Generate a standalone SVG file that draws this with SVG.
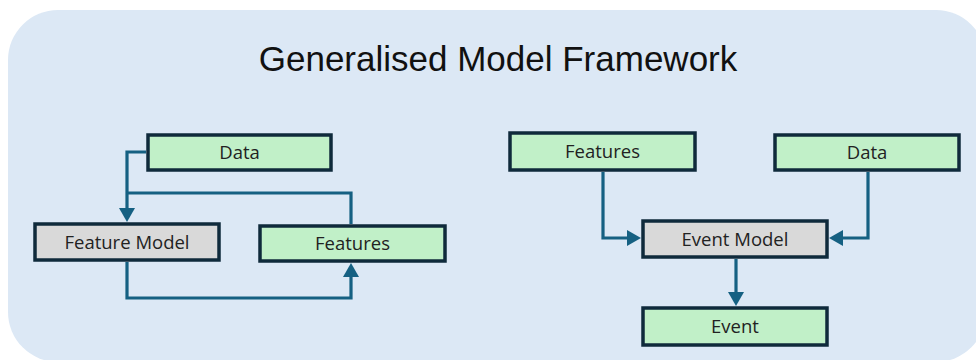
<svg xmlns="http://www.w3.org/2000/svg" width="976" height="360" viewBox="0 0 976 360">
<defs>
<style>
.bg{fill:#DCE8F5}
.box rect{stroke:#0F2A3B;stroke-width:3.5}
.g rect{fill:#C1F0C8}
.m rect{fill:#D9D9D9}
.box text{font-family:"Open Sans","Liberation Sans",sans-serif;font-size:18.5px;fill:#222;text-anchor:middle}
.title{font-family:"Liberation Sans",Arial,sans-serif;font-size:35px;fill:#111;text-anchor:middle}
.conn path{fill:none;stroke:#156082;stroke-width:3.2;marker-end:url(#arr)}
.conn path.plain{marker-end:none}
</style>
<marker id="arr" viewBox="0 0 14 16" markerWidth="14" markerHeight="16" refX="0" refY="8" orient="auto" markerUnits="userSpaceOnUse">
<path d="M0,0 L14,8 L0,16 Z" fill="#156082"/>
</marker>
</defs>
<rect class="bg" x="8" y="10" width="978" height="352" rx="50" ry="50"/>
<text class="title" x="498" y="71">Generalised Model Framework</text>
<g class="conn">
<path d="M146,152 H127 V208"/>
<path class="plain" d="M351,224 V193 H127"/>
<path d="M127,262 V298 H351 V277"/>
<path d="M603,172 V238 H627"/>
<path d="M868,172 V238 H843"/>
<path d="M736,259 V292"/>
</g>
<g id="data-left" class="box g"><rect x="148" y="135" width="183" height="35"/><text x="239.5" y="159">Data</text></g>
<g id="feature-model" class="box m"><rect x="35" y="224" width="184" height="36"/><text x="127" y="248.5">Feature Model</text></g>
<g id="features-left" class="box g"><rect x="260" y="226" width="185" height="35"/><text x="352.5" y="250">Features</text></g>
<g id="features-right" class="box g"><rect x="510" y="133" width="185" height="37"/><text x="602.5" y="158">Features</text></g>
<g id="data-right" class="box g"><rect x="775" y="135" width="184" height="35"/><text x="867" y="159">Data</text></g>
<g id="event-model" class="box m"><rect x="643" y="221" width="184" height="36"/><text x="735" y="245.5">Event Model</text></g>
<g id="event" class="box g"><rect x="643" y="308" width="184" height="37"/><text x="735" y="333">Event</text></g>
</svg>
